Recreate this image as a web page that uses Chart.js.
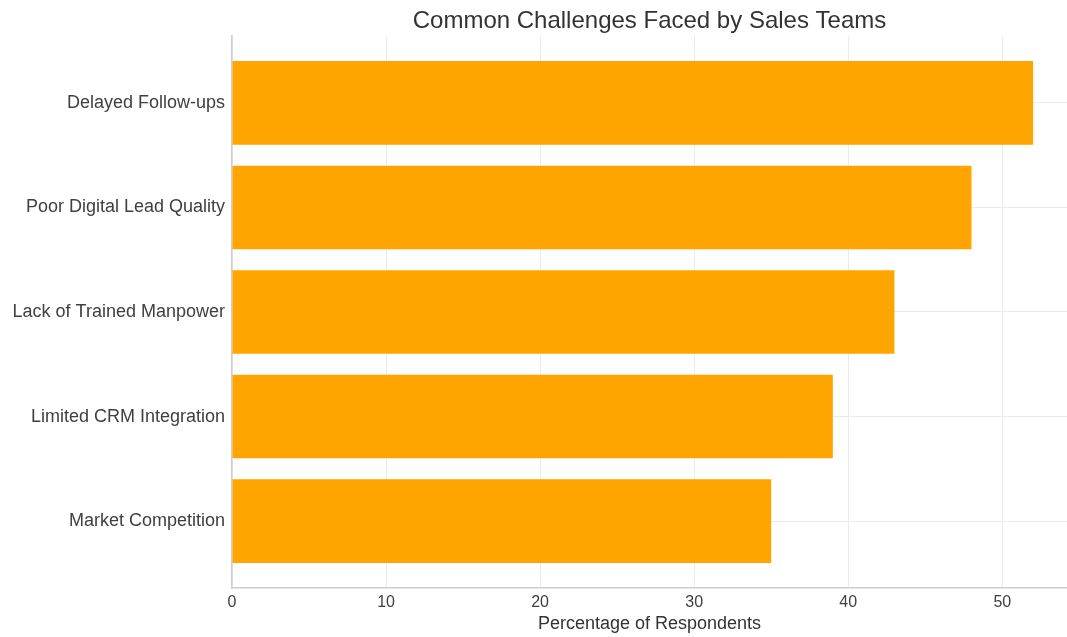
<!DOCTYPE html>
<html>
<head>
<meta charset="utf-8">
<script src="https://cdn.jsdelivr.net/npm/chart.js@4.4.1/dist/chart.umd.min.js"></script>
<style>
  html, body { margin: 0; padding: 0; background: #fff; overflow: hidden; }
  #chart { display: block; }
</style>
</head>
<body>
<canvas id="chart" width="1067" height="637"></canvas>
<script>
// bottom to top, as the bars stack up the y axis
const categories = [
    'Market Competition',
    'Limited CRM Integration',
    'Lack of Trained Manpower',
    'Poor Digital Lead Quality',
    'Delayed Follow-ups'
];
const percentages = [35, 39, 43, 48, 52];
const xTicks = [0, 10, 20, 30, 40, 50];

const barColor = '#FFA500';
const gridColor = '#ebebeb';
const spineColor = '#cccccc';
const textColor = '#404040';
const fontFamily = '"Liberation Sans", Arial, sans-serif';

const points = percentages.map((v, i) => ({ x: v, y: i }));

new Chart(document.getElementById('chart'), {
    type: 'bar',
    data: {
        datasets: [{
            data: points,
            backgroundColor: barColor,
            borderWidth: 0,
            categoryPercentage: 1,
            barPercentage: 0.8
        }]
    },
    options: {
        indexAxis: 'y',
        responsive: false,
        animation: false,
        layout: { padding: 0 },
        plugins: {
            legend: { display: false },
            tooltip: { enabled: false },
            title: {
                display: true,
                fullSize: false,
                text: 'Common Challenges Faced by Sales Teams',
                color: '#333333',
                font: { family: fontFamily, size: 24, weight: 'normal', lineHeight: 1 },
                padding: { top: 9, bottom: 3 }
            }
        },
        scales: {
            x: {
                type: 'linear',
                min: 0,
                max: 54.2,
                afterBuildTicks: s => { s.ticks = xTicks.map(v => ({ value: v })); },
                afterFit: s => { s.height = 49; },
                grid: { color: gridColor, drawTicks: false },
                border: { color: spineColor, width: 1.5 },
                ticks: {
                    color: textColor,
                    padding: 5,
                    font: { family: fontFamily, size: 16 }
                },
                title: {
                    display: true,
                    text: 'Percentage of Respondents',
                    color: '#333333',
                    font: { family: fontFamily, size: 18 },
                    padding: { top: 2, bottom: 2 }
                }
            },
            y: {
                type: 'linear',
                offset: false,
                min: -0.64,
                max: 4.64,
                afterBuildTicks: s => { s.ticks = categories.map((c, i) => ({ value: i })); },
                afterFit: s => { s.width = 232; },
                grid: { color: gridColor, drawTicks: false, offset: false },
                border: { color: spineColor, width: 1.5 },
                ticks: {
                    color: textColor,
                    padding: 7,
                    font: { family: fontFamily, size: 18 },
                    callback: v => categories[v]
                }
            }
        }
    }
});
</script>
</body>
</html>
